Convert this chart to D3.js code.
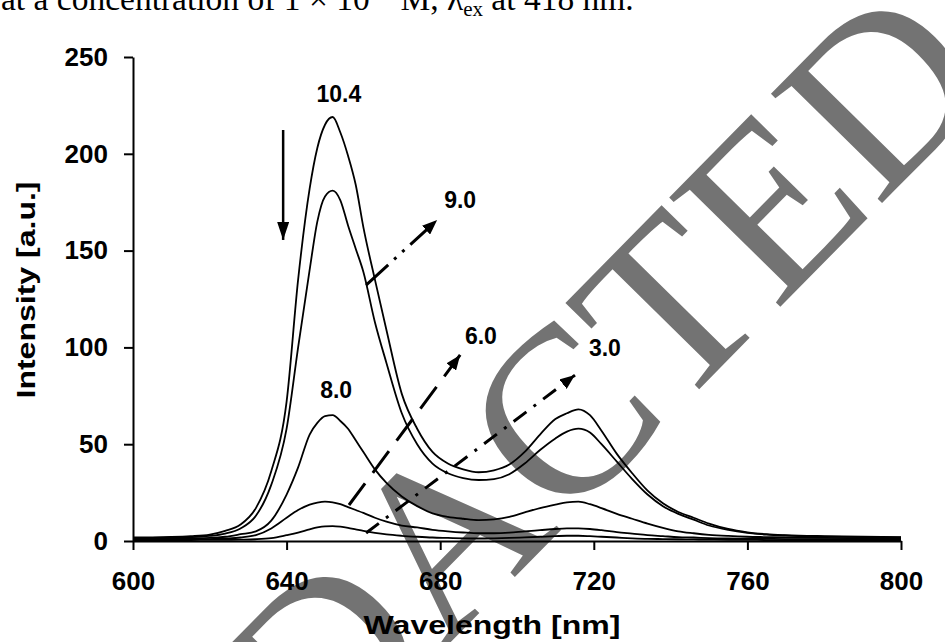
<!DOCTYPE html>
<html>
<head>
<meta charset="utf-8">
<script src="https://cdn.jsdelivr.net/npm/d3@7"></script>
<style>
  html, body { margin: 0; padding: 0; background: #ffffff; }
  svg { display: block; }
</style>
</head>
<body>
<svg id="chart" width="945" height="642"></svg>
<script>
// ---------------- data ----------------
const wavelengths = [600,605,610,615,620,624,628,632,636,640,643,646,648,650,652,654,656,658,660,663,666,670,674,678,682,686,690,694,698,702,706,710,713,716,719,722,726,730,734,738,742,746,750,755,760,765,770,780,790,800];

const intensity_10_4 = [1.8,1.9,2.1,2.5,3.3,5.2,8.5,17,36,72,135,182,203,215,219,211,199,184,162,135,109,76,58,46,40,37,35.5,36.5,39.5,46,55,63,66,68,65,57,45,35,26,19.5,15,12,9,6.2,4.5,3.5,3,2.5,2.2,2];
const intensity_9_0  = [1.5,1.6,1.8,2.0,2.6,3.8,6.5,13,29,58,100,140,165,178,181,176,163,151,139,113,92,66,50,40,35,32.5,31.5,32,34.5,40,47,53,56.5,58,56,50,41,32,24,18,14,11,8,5.7,4.2,3.3,2.8,2.3,2.0,1.8];
const intensity_8_0  = [1.2,1.2,1.3,1.4,1.6,2.2,3.5,5,10.5,24,38,55,61,64.5,65,62,58,52,46,37,30,23,18,14.3,12.5,11.5,10.8,11.2,12.5,14.8,17,18.8,20,20.3,19,17,14,11.5,9,6.8,5,4,3.2,2.6,2.2,2.0,1.8,1.6,1.5,1.4];
const intensity_6_0  = [0.8,0.8,0.8,0.9,1.0,1.3,1.8,3,6.5,12,16,18.8,19.8,20.3,20,19,17.5,16,14.5,12,10,8,7,5.8,5,4.4,4,4,4.3,5,5.6,6.2,6.5,6.5,6.2,5.6,4.6,3.8,3,2.5,2,1.8,1.5,1.3,1.2,1.1,1.0,1.0,0.9,0.9];
const intensity_3_0  = [0.5,0.5,0.5,0.5,0.6,0.6,0.7,0.9,1.5,3,4.3,6,7,7.6,7.7,7.4,6.8,6,5.2,4.2,3.4,2.7,2.2,1.8,1.6,1.4,1.3,1.4,1.6,1.9,2.2,2.5,2.7,2.7,2.5,2.2,1.8,1.4,1.1,1.0,0.9,0.8,0.7,0.6,0.6,0.5,0.5,0.5,0.5,0.5];

const seriesNames = ["10.4","9.0","8.0","6.0","3.0"];
const seriesValues = [intensity_10_4, intensity_9_0, intensity_8_0, intensity_6_0, intensity_3_0];

const xTicks = [600,640,680,720,760,800];
const yTicks = [0,50,100,150,200,250];

// annotation labels (data units: wavelength, intensity)
const labelTexts = ["10.4","9.0","8.0","6.0","3.0"];
const labelX = [653.6, 685.2, 652.9, 690.6, 722.9];
const labelY = [230.9, 176.1, 78.0, 105.9, 99.7];

// annotation arrows (data units)
const arrowX1 = [639.1, 660.7, 656.25, 660.7];
const arrowY1 = [212.3, 132.2, 18.6, 4.1];
const arrowX2 = [639.1, 679.2, 685.2, 715.1];
const arrowY2 = [155.5, 165.8, 96.1, 85.7];
const arrowDash = [null, "30,8,3,8,3,8", "27,13", "16,9,3,9"];

const xTitle = "Wavelength [nm]";
const yTitle = "Intensity [a.u.]";
const watermark = "REDACTED";

// ---------------- drawing ----------------
const svg = d3.select("#chart");
const W = 945, H = 642;
svg.append("rect").attr("width", W).attr("height", H).attr("fill", "#ffffff");

const x = d3.scaleLinear().domain([600, 800]).range([133, 901]);
const y = d3.scaleLinear().domain([0, 250]).range([541, 57]);

// watermark (behind everything)
svg.append("text")
  .attr("transform", "translate(553,538) rotate(-45.5)")
  .attr("text-anchor", "middle")
  .attr("font-family", "'Liberation Serif', 'Times New Roman', serif")
  .attr("font-size", 238)
  .attr("fill", "#737373")
  .text(watermark);

// top caption (cut off by the top edge)
const cap = svg.append("text")
  .attr("x", 1).attr("y", 9.5)
  .attr("font-family", "'Liberation Serif', 'Times New Roman', serif")
  .attr("font-size", 33.5)
  .attr("fill", "#000");
cap.append("tspan").text("at a concentration of 1 \u00d7 10");
cap.append("tspan").attr("font-size", 21).attr("dy", -13).text("\u22126");
cap.append("tspan").attr("dy", 13).text(" M, \u03bb");
cap.append("tspan").attr("font-size", 21).attr("dy", 6).text("ex");
cap.append("tspan").attr("dy", -6).text(" at 418 nm.");

// axes
const fontSans = "'Liberation Sans', Arial, Helvetica, sans-serif";
const xAxis = svg.append("g")
  .attr("transform", `translate(0,${y(0)})`)
  .call(d3.axisBottom(x).tickValues(xTicks).tickSize(9).tickSizeOuter(0).tickPadding(22).tickFormat(d3.format("d")));
const yAxis = svg.append("g")
  .attr("transform", `translate(${x(600)},0)`)
  .call(d3.axisLeft(y).tickValues(yTicks).tickSize(9).tickSizeOuter(0).tickPadding(16).tickFormat(d3.format("d")));

[xAxis, yAxis].forEach(g => {
  g.select(".domain").attr("stroke", "#000").attr("stroke-width", 2);
  g.selectAll(".tick line").attr("stroke", "#000").attr("stroke-width", 2);
  g.selectAll(".tick text")
    .attr("fill", "#000")
    .attr("font-family", fontSans)
    .attr("font-weight", "bold")
    .attr("font-size", 26);
});

// axis titles
svg.append("text")
  .attr("transform", "translate(492,634)")
  .attr("text-anchor", "middle")
  .attr("font-family", fontSans).attr("font-weight", "bold").attr("font-size", 26)
  .attr("textLength", 257).attr("lengthAdjust", "spacingAndGlyphs")
  .text(xTitle);
svg.append("text")
  .attr("transform", "translate(35,290) rotate(-90)")
  .attr("text-anchor", "middle")
  .attr("font-family", fontSans).attr("font-weight", "bold").attr("font-size", 26)
  .attr("textLength", 217).attr("lengthAdjust", "spacingAndGlyphs")
  .text(yTitle);

// spectra
const line = d3.line()
  .x(d => x(d[0]))
  .y(d => y(d[1]))
  .curve(d3.curveMonotoneX);

const plot = svg.append("g");
seriesValues.forEach((vals, i) => {
  const pts = wavelengths.map((w, k) => [w, vals[k]]);
  plot.append("path")
    .datum(pts)
    .attr("d", line)
    .attr("fill", "none")
    .attr("stroke", "#000")
    .attr("stroke-width", 1.8)
    .attr("stroke-linejoin", "round")
    .attr("data-series", seriesNames[i]);
});

// arrow markers
const defs = svg.append("defs");
defs.append("marker")
  .attr("id", "headSmall")
  .attr("markerUnits", "userSpaceOnUse")
  .attr("viewBox", "0 0 15 12")
  .attr("markerWidth", 15).attr("markerHeight", 12)
  .attr("refX", 15).attr("refY", 6)
  .attr("orient", "auto")
  .append("path").attr("d", "M0,0 L15,6 L0,12 Z").attr("fill", "#000").attr("stroke", "none");
defs.append("marker")
  .attr("id", "headBig")
  .attr("markerUnits", "userSpaceOnUse")
  .attr("viewBox", "0 0 18 12")
  .attr("markerWidth", 18).attr("markerHeight", 12)
  .attr("refX", 18).attr("refY", 6)
  .attr("orient", "auto")
  .append("path").attr("d", "M0,0 L18,6 L0,12 Z").attr("fill", "#000").attr("stroke", "none");

arrowX1.forEach((_, i) => {
  svg.append("line")
    .attr("x1", x(arrowX1[i])).attr("y1", y(arrowY1[i]))
    .attr("x2", x(arrowX2[i])).attr("y2", y(arrowY2[i]))
    .attr("stroke", "#000")
    .attr("stroke-width", i === 0 ? 2.5 : 3)
    .attr("stroke-dasharray", arrowDash[i])
    .attr("marker-end", i === 0 ? "url(#headBig)" : "url(#headSmall)");
});

// curve labels
labelTexts.forEach((t, i) => {
  svg.append("text")
    .attr("x", x(labelX[i])).attr("y", y(labelY[i]))
    .attr("dy", "0.35em")
    .attr("text-anchor", "middle")
    .attr("font-family", fontSans).attr("font-weight", "bold").attr("font-size", 23)
    .attr("fill", "#000")
    .text(t);
});
</script>
</body>
</html>
